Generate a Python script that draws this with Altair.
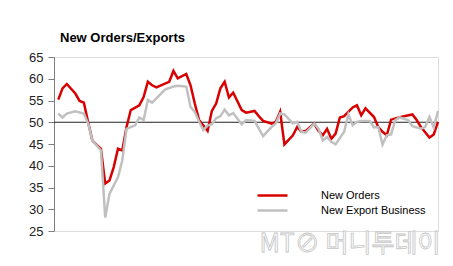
import altair as alt
import pandas as pd

# Series (month index, value)
orders_t = [0,1,2,4,5,6,7,8,9,10,11,12,13,14,15,16,17,19,20,21,22,23,25,26,27,28,30,31,32,33,35,36,37,38,39,40,41,43,44,46,47,48,50,51,52,53,55,56,57,58,60,61,62,63,64,65,66,67,69,70,71,72,74,75,76,77,78,79,81,83,84,85,87,88,89]
orders_v = [55.2,57.8,58.8,56.6,54.9,54.5,50.0,45.8,44.8,43.9,35.9,36.6,39.7,43.9,43.5,48.9,52.8,53.9,55.8,59.3,58.5,58.0,58.9,59.3,61.8,60.1,61.1,58.5,54.3,50.5,48.0,52.6,54.3,57.8,59.3,55.7,56.8,52.8,52.2,52.6,51.4,50.3,49.7,50.1,52.4,44.9,47.0,48.9,47.8,48.0,49.7,48.0,47.0,48.5,46.2,47.4,51.1,51.4,53.4,53.9,51.6,53.2,51.2,48.9,47.8,47.0,50.6,50.9,51.4,51.8,50.5,48.9,46.5,47.2,50.1]

exports_t = [0,1,2,4,6,7,8,10,11,12,14,15,16,18,19,20,21,22,23,25,27,28,30,31,32,33,34,35,36,37,38,39,40,41,43,44,46,48,50,51,52,53,55,56,57,58,60,61,62,63,64,65,67,68,69,70,71,73,74,75,76,77,78,79,80,82,83,85,86,87,88,89]
exports_v = [52.0,51.1,52.0,52.5,52.0,49.7,45.8,43.5,28.1,33.5,37.4,41.2,48.5,49.3,51.1,50.5,55.1,54.5,55.5,57.5,58.2,58.4,58.2,53.5,52.4,50.1,48.2,49.3,49.5,50.9,51.4,52.9,51.6,52.1,49.5,50.5,50.3,46.8,48.9,49.7,52.0,51.8,49.7,50.1,47.8,47.6,49.7,48.5,45.8,46.6,45.5,44.9,47.8,51.8,49.3,50.1,50.3,50.3,48.8,48.9,44.9,47.0,47.2,50.5,51.1,50.5,49.1,48.5,48.9,51.2,48.8,52.6]

series_names = ["New Orders", "New Export Business"]
series_colors = ["#d80000", "#c0c0c0"]
y_ticks = [25, 30, 35, 40, 45, 50, 55, 60, 65]
ref_level = [50]
watermark = ["MT\u2298 머니투데이"]

df = pd.concat([
    pd.DataFrame({"t": orders_t, "value": orders_v, "series": series_names[0]}),
    pd.DataFrame({"t": exports_t, "value": exports_v, "series": series_names[1]}),
])

FONT = "Liberation Sans"

x_enc = alt.X("t:Q", axis=None, scale=alt.Scale(domain=[-1, 89], nice=False, zero=False))
y_scale = alt.Scale(domain=[25, 65], nice=False, zero=False)
y_axis = alt.Axis(values=y_ticks, tickSize=6, labelPadding=5, grid=False, title=None,
                  labelOverlap=False, tickCount=9,
                  domainColor="#7f7f7f", tickColor="#7f7f7f",
                  labelFont=FONT, labelFontSize=13, labelColor="#222")

color_enc = alt.Color(
    "series:N",
    scale=alt.Scale(domain=series_names, range=series_colors),
    legend=alt.Legend(
        orient="none", legendX=212, legendY=132, title=None,
        symbolType="M-3,0H3", symbolSize=100, symbolStrokeWidth=2.5,
        labelOffset=42, labelFont=FONT, labelFontSize=11, labelColor="#000",
        rowPadding=3, padding=0,
    ),
)

base = alt.Chart(df)

rule = alt.Chart(pd.DataFrame({"y": ref_level})).mark_rule(color="#222", strokeWidth=1).encode(
    y=alt.Y("y:Q", scale=y_scale, axis=y_axis)
)

red_line = base.transform_filter(alt.datum.series == series_names[0]).mark_line(strokeWidth=2.5).encode(
    x=x_enc, y=alt.Y("value:Q", scale=y_scale, axis=y_axis), color=color_enc, order="t:Q"
)
gray_line = base.transform_filter(alt.datum.series == series_names[1]).mark_line(strokeWidth=2.5).encode(
    x=x_enc, y=alt.Y("value:Q", scale=y_scale, axis=y_axis), color=color_enc, order="t:Q"
)

wm = alt.Chart(pd.DataFrame({"txt": watermark})).mark_text(
    font="Noto Sans CJK KR", fontSize=25, fill="#ffffff", stroke="#c4c4c4", strokeWidth=0.8,
    align="center", baseline="middle"
).encode(text="txt:N", x=alt.value(296), y=alt.value(187))

chart = alt.layer(rule, red_line, gray_line, wm).properties(
    width=384, height=174,
    padding={"left": 54, "top": 57, "right": 15, "bottom": 35},
    autosize=alt.AutoSizeParams(type="none"),
    title=alt.TitleParams("New Orders/Exports", anchor="start", frame="group", font=FONT, fontSize=13,
                          fontWeight="bold", color="#000", dx=6, dy=18, offset=14, baseline="alphabetic"),
).configure_view(stroke=None).configure(background="#ffffff")

chart.save("out.html", embed_options={"renderer": "svg", "actions": False})
